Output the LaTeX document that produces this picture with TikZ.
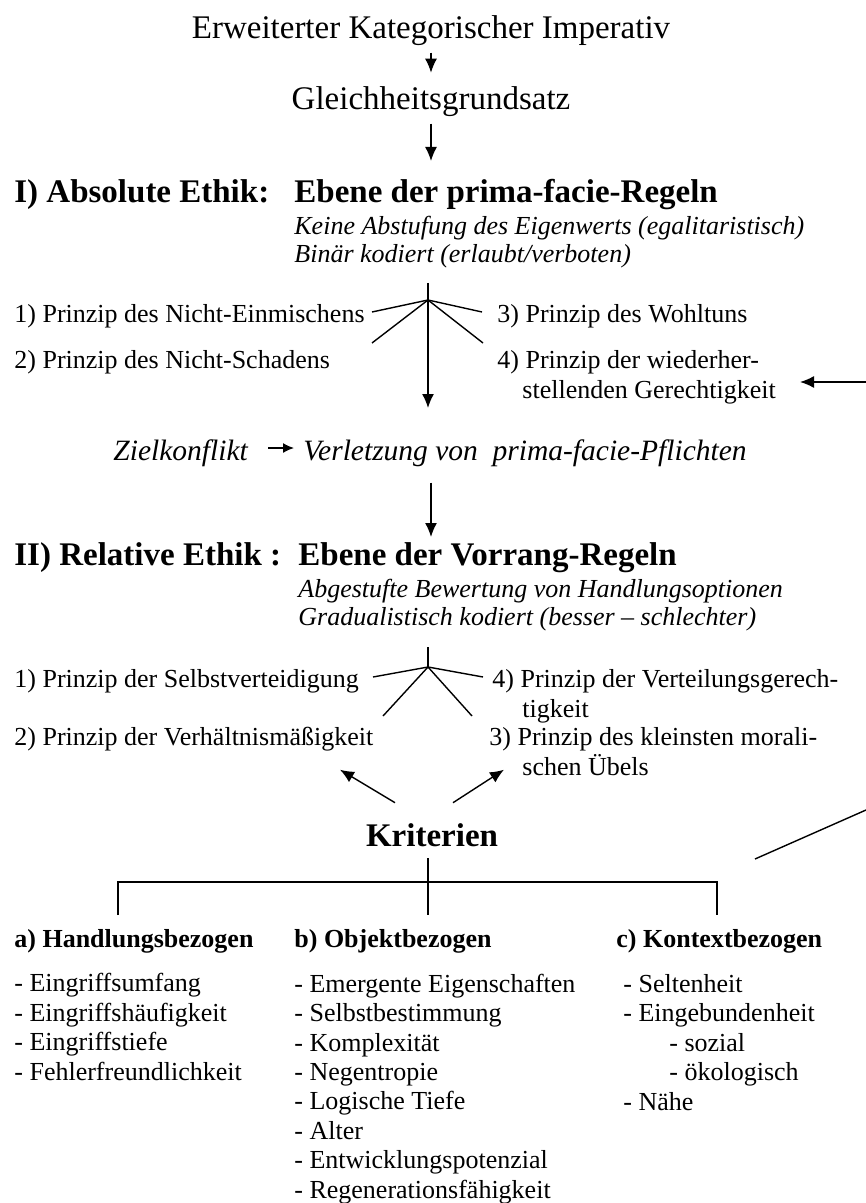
\documentclass[tikz,border=0pt]{standalone}
\usepackage{fontspec}
\setmainfont{Liberation Serif}
\usetikzlibrary{arrows.meta}
\tikzset{
  txt/.style={inner sep=0pt, align=left, font=\fontsize{13}{14.7}\selectfont},
  zweizeilig/.style={txt, font=\fontsize{13}{15}\selectfont},
  kopf/.style={inner sep=0pt, font=\fontsize{16.5}{20}\selectfont},
  ebene/.style={kopf, font=\fontsize{16.5}{20}\selectfont\bfseries},
  merkmal/.style={txt, font=\fontsize{13}{14}\selectfont\itshape},
  konflikt/.style={inner sep=0pt, font=\fontsize{14.75}{17}\selectfont\itshape},
  gruppe/.style={txt, font=\fontsize{13}{14.7}\selectfont\bfseries},
  ast/.style={line width=0.7pt},
  arr/.style={-{Latex[length=7pt,width=6pt]}, ast},
  pfeilchen/.style={-{Latex[length=5.5pt,width=5pt]}, ast}
}
\begin{document}
\begin{tikzpicture}[x=0.5pt,y=-0.5pt]
\useasboundingbox (0,0) rectangle (866,1203);
% Kopf
\node[kopf, anchor=base] (kant) at (431,39) {Erweiterter Kategorischer Imperativ};
\node[kopf, anchor=base] (gleich) at (431,110) {Gleichheitsgrundsatz};
\coordinate (ziel1) at (431,161);
\draw[arr, shorten <=3pt, shorten >=7pt] (kant) -- (gleich);
\draw[arr, shorten <=3pt] (gleich) -- (ziel1);

% I) Absolute Ethik
\node[ebene, anchor=base west] (abs) at (14,203) {I) Absolute Ethik:};
\node[ebene, anchor=base west] (pf) at (294,203) {Ebene der prima-facie-Regeln};
\node[merkmal, anchor=base west] (pfm) at (294,263) {Keine Abstufung des Eigenwerts (egalitaristisch)\\Binär kodiert (erlaubt/verboten)};
\coordinate (stamm1) at (428,283);
\coordinate (fan1) at (428,300);
\coordinate (stamm1end) at (428,408);
\draw[arr] (stamm1) -- (stamm1end);
\foreach \dx/\dy in {-56/12,-56/43,54/12,55/43}
  \draw[ast] (fan1) -- ++(\dx,\dy);
\node[txt, anchor=base west] (p1) at (14,322) {1) Prinzip des Nicht-Einmischens};
\node[txt, anchor=base west] (p2) at (14,368) {2) Prinzip des Nicht-Schadens};
\node[txt, anchor=base west] (p3) at (497,322) {3) Prinzip des Wohltuns};
\node[zweizeilig, anchor=base west] (p4) at (497,398) {4) Prinzip der wiederher-\\\hspace*{12.5pt}stellenden Gerechtigkeit};
\coordinate (rand1) at (866,382);
\coordinate (rechtsziel) at (800,382);
\draw[arr] (rand1) -- (rechtsziel);

% Zielkonflikt
\node[konflikt, anchor=base west] (zk) at (113,460) {Zielkonflikt};
\node[konflikt, anchor=base west] (verl) at (303,460) {Verletzung von\ \ prima-facie-Pflichten};
\draw[pfeilchen, shorten <=10pt, shorten >=4.5pt] (zk.east |- 0,448) -- (verl.west |- 0,448);
\coordinate (ziel2) at (431,537);
\draw[arr, shorten <=8pt] (verl.south -| ziel2) -- (ziel2);

% II) Relative Ethik
\node[ebene, anchor=base west] (rel) at (14,565) {II) Relative Ethik :};
\node[ebene, anchor=base west] (vr) at (298,565) {Ebene der Vorrang-Regeln};
\node[merkmal, anchor=base west] (vrm) at (298,625) {Abgestufte Bewertung von Handlungsoptionen\\Gradualistisch kodiert (besser -- schlechter)};
\coordinate (stamm2) at (428,647);
\coordinate (fan2) at (428,667);
\draw[ast] (stamm2) -- (fan2);
\foreach \dx/\dy in {-55/10,-45/49,55/10,44/49}
  \draw[ast] (fan2) -- ++(\dx,\dy);
\node[txt, anchor=base west] (q1) at (14,687) {1) Prinzip der Selbstverteidigung};
\node[txt, anchor=base west] (q2) at (14,745) {2) Prinzip der Verhältnismäßigkeit};
\node[zweizeilig, anchor=base west] (q4) at (492,717) {4) Prinzip der Verteilungsgerech-\\\hspace*{15pt}tigkeit};
\node[zweizeilig, anchor=base west] (q3) at (489,775) {3) Prinzip des kleinsten morali-\\\hspace*{16.5pt}schen Übels};

% Kriterien
\node[ebene, anchor=base] (krit) at (432,846) {Kriterien};
\draw[arr] ([shift={(-37,-20)}]krit.north) -- ([shift={(-92,-53)}]krit.north);
\draw[arr] ([shift={(21,-20)}]krit.north) -- ([shift={(72,-53)}]krit.north);
\coordinate (knick) at (755,859);
\coordinate (rand2) at (866,810);
\draw[ast] (knick) -- (rand2);
\coordinate (kstamm) at (428,858);
\coordinate (bar) at (428,882);
\coordinate (dropa) at (118,915);
\coordinate (dropc) at (717,915);
\draw[ast] (kstamm) -- (kstamm |- dropa);
\draw[ast] (dropa) |- (bar) -| (dropc);

\node[gruppe, anchor=base west] (ga) at (14,947) {a) Handlungsbezogen};
\node[gruppe, anchor=base west] (gb) at (294,947) {b) Objektbezogen};
\node[gruppe, anchor=base west] (gc) at (616,947) {c) Kontextbezogen};
\node[txt, anchor=base west] (la) at (14,1080) {- Eingriffsumfang\\- Eingriffshäufigkeit\\- Eingriffstiefe\\- Fehlerfreundlichkeit};
\node[txt, anchor=base west] (lb) at (294,1198) {- Emergente Eigenschaften\\- Selbstbestimmung\\- Komplexität\\- Negentropie\\- Logische Tiefe\\- Alter\\- Entwicklungspotenzial\\- Regenerationsfähigkeit};
\node[txt, anchor=base west] (lc) at (623,1110) {- Seltenheit\\- Eingebundenheit\\\hspace*{23pt}- sozial\\\hspace*{23pt}- ökologisch\\- Nähe};
\end{tikzpicture}
\end{document}
